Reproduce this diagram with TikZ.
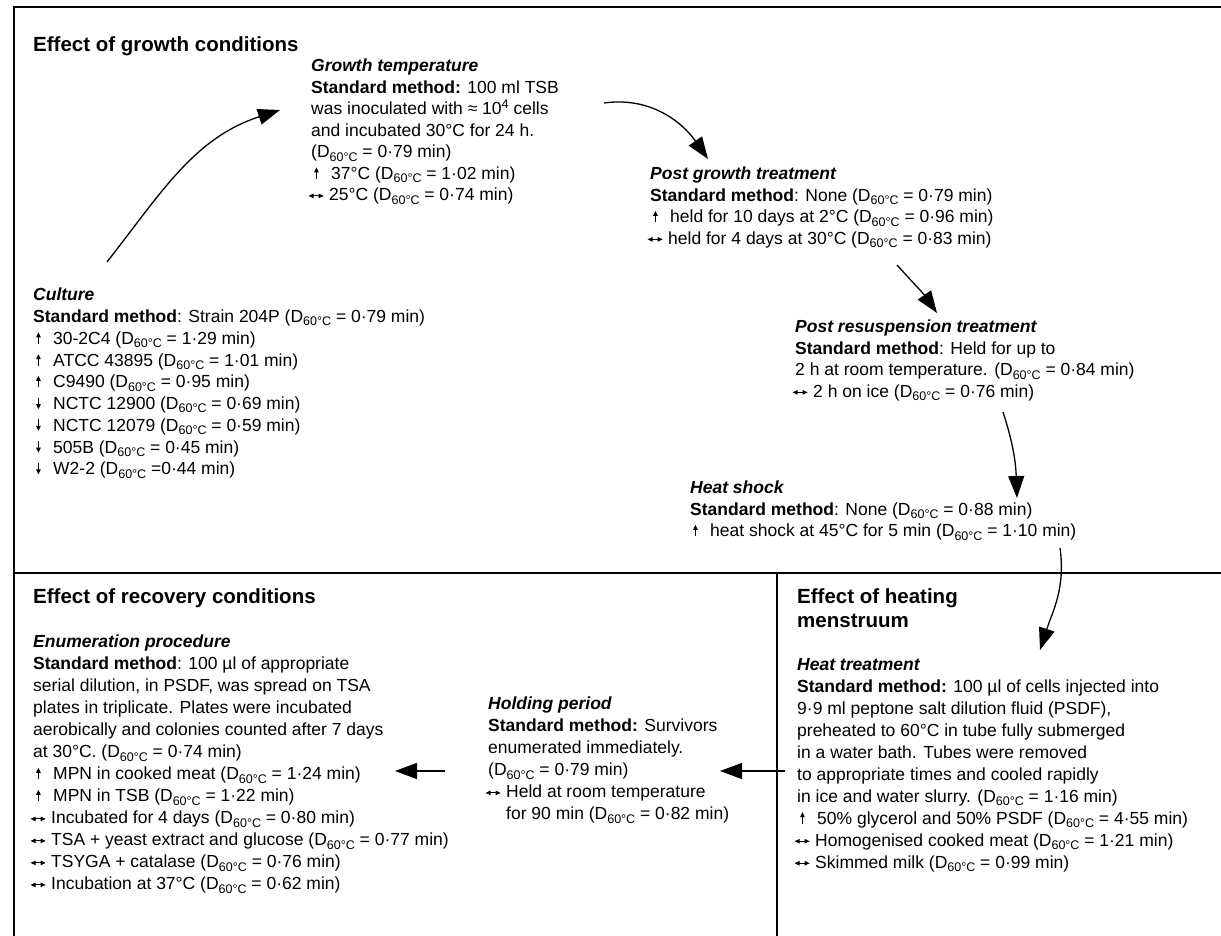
\documentclass[tikz,border=0pt]{standalone}
\usepackage{fontspec}
\setmainfont{Liberation Sans}
\usetikzlibrary{arrows.meta}
\newcommand{\Dt}{D\raisebox{-0.35ex}{\fontsize{12.5}{12.5}\selectfont 60°C}}
\newcommand{\itemup}{\makebox[20pt][l]{\hspace{3pt}\tikz[baseline=0pt]\draw[line width=0.8pt, -{Triangle[length=5pt,width=4.5pt]}] (0pt,0.5pt) -- (0pt,12pt);}}
\newcommand{\itemdown}{\makebox[20pt][l]{\hspace{3pt}\tikz[baseline=0pt]\draw[line width=0.8pt, -{Triangle[length=5pt,width=4.5pt]}] (0pt,12pt) -- (0pt,0.5pt);}}
\newcommand{\itemsame}{\makebox[18pt][l]{\hspace{-3pt}\tikz[baseline=0pt]\draw[line width=0.8pt, {Triangle[length=5pt,width=4.5pt]}-{Triangle[length=5pt,width=4.5pt]}] (0pt,5pt) -- (15pt,5pt);}}
\begin{document}
\begin{tikzpicture}[x=1pt, y=1pt,
    txt/.style={anchor=north west, inner sep=0pt, align=left, font=\fontsize{17.5}{21.5}\selectfont},
    low/.style={txt, font=\fontsize{17.5}{22}\selectfont},
    head/.style={anchor=north west, inner sep=0pt, align=left, font=\fontsize{20.5}{24}\selectfont\bfseries},
    flow/.style={line width=1.3pt, -{Triangle[length=22pt,width=16pt]}}]
    \useasboundingbox (0,0) rectangle (1221,-936);
    \draw[line width=1.2pt] (14,-936) -- (14,-7) -- (1221,-7);
    \draw[line width=1.2pt] (14,-573) -- (1221,-573);
    \draw[line width=1.2pt] (777,-573) -- (777,-936);

    \node[head] (growth) at (33,-36) {Effect of growth conditions};
    \node[txt] (temp) at (311,-59) {\textbf{\textit{Growth temperature}}\\
        \textbf{Standard method:} 100 ml TSB\\
        was inoculated with ≈ 10\raisebox{0.7ex}{\fontsize{12.5}{12.5}\selectfont 4} cells\\
        and incubated 30°C for 24 h.\\
        (\Dt{} = 0·79 min)\\
        \itemup 37°C (\Dt{} = 1·02 min)\\
        \itemsame 25°C (\Dt{} = 0·74 min)};
    \node[txt] (post) at (650,-167) {\textbf{\textit{Post growth treatment}}\\
        \textbf{Standard method}: None (\Dt{} = 0·79 min)\\
        \itemup held for 10 days at 2°C (\Dt{} = 0·96 min)\\
        \itemsame held for 4 days at 30°C (\Dt{} = 0·83 min)};
    \node[txt] (resus) at (795,-320) {\textbf{\textit{Post resuspension treatment}}\\
        \textbf{Standard method}: Held for up to\\
        2 h at room temperature. (\Dt{} = 0·84 min)\\
        \itemsame 2 h on ice (\Dt{} = 0·76 min)};
    \node[txt] (shock) at (690,-481) {\textbf{\textit{Heat shock}}\\
        \textbf{Standard method}: None (\Dt{} = 0·88 min)\\
        \itemup heat shock at 45°C for 5 min (\Dt{} = 1·10 min)};
    \node[txt, font=\fontsize{17.5}{21.75}\selectfont] (culture) at (33,-288) {\textbf{\textit{Culture}}\\
        \textbf{Standard method}: Strain 204P (\Dt{} = 0·79 min)\\
        \itemup 30-2C4 (\Dt{} = 1·29 min)\\
        \itemup ATCC 43895 (\Dt{} = 1·01 min)\\
        \itemup C9490 (\Dt{} = 0·95 min)\\
        \itemdown NCTC 12900 (\Dt{} = 0·69 min)\\
        \itemdown NCTC 12079 (\Dt{} = 0·59 min)\\
        \itemdown 505B (\Dt{} = 0·45 min)\\
        \itemdown W2-2 (\Dt{} =0·44 min)};

    \node[head] (recovery) at (33,-588) {Effect of recovery conditions};
    \node[low] (enum) at (33,-635) {\textbf{\textit{Enumeration procedure}}\\
        \textbf{Standard method}: 100 µl of appropriate\\
        serial dilution, in PSDF, was spread on TSA\\
        plates in triplicate. Plates were incubated\\
        aerobically and colonies counted after 7 days\\
        at 30°C. (\Dt{} = 0·74 min)\\
        \itemup MPN in cooked meat (\Dt{} = 1·24 min)\\
        \itemup MPN in TSB (\Dt{} = 1·22 min)\\
        \itemsame Incubated for 4 days (\Dt{} = 0·80 min)\\
        \itemsame TSA + yeast extract and glucose (\Dt{} = 0·77 min)\\
        \itemsame TSYGA + catalase (\Dt{} = 0·76 min)\\
        \itemsame Incubation at 37°C (\Dt{} = 0·62 min)};
    \node[low] (hold) at (488,-697) {\textbf{\textit{Holding period}}\\
        \textbf{Standard method:} Survivors\\
        enumerated immediately.\\
        (\Dt{} = 0·79 min)\\
        \itemsame Held at room temperature\\
        \hspace{18pt}for 90 min (\Dt{} = 0·82 min)};

    \node[head] (menstruum) at (797,-588) {Effect of heating\\menstruum};
    \node[low] (heat) at (797,-658) {\textbf{\textit{Heat treatment}}\\
        \textbf{Standard method:} 100 µl of cells injected into\\
        9·9 ml peptone salt dilution fluid (PSDF),\\
        preheated to 60°C in tube fully submerged\\
        in a water bath. Tubes were removed\\
        to appropriate times and cooled rapidly\\
        in ice and water slurry. (\Dt{} = 1·16 min)\\
        \itemup 50\% glycerol and 50\% PSDF (\Dt{} = 4·55 min)\\
        \itemsame Homogenised cooked meat (\Dt{} = 1·21 min)\\
        \itemsame Skimmed milk (\Dt{} = 0·99 min)};

    \draw[flow] ([shift={(74,26)}]culture.north west) to[out=52, in=198] ([shift={(-31,-51)}]temp.north west);
    \draw[flow] ([shift={(293,-44)}]temp.north west) to[out=8, in=125] ([shift={(58,8)}]post.north west);
    \draw[flow] ([shift={(247,-98)}]post.north west) to[out=-48, in=125] ([shift={(142,7)}]resus.north west);
    \draw[flow] ([shift={(208,-92)}]resus.north west) to[out=-72, in=92] ([shift={(327,-17)}]shock.north west);
    \draw[flow] ([shift={(370,-67)}]shock.north west) to[out=-82, in=72] ([shift={(243,8)}]heat.north west);
    \draw[flow] ([shift={(-12,-113)}]heat.north west) -- ([shift={(232,-74)}]hold.north west);
    \draw[flow] ([shift={(-43,-74)}]hold.north west) -- ([shift={(362,-136)}]enum.north west);
\end{tikzpicture}
\end{document}
